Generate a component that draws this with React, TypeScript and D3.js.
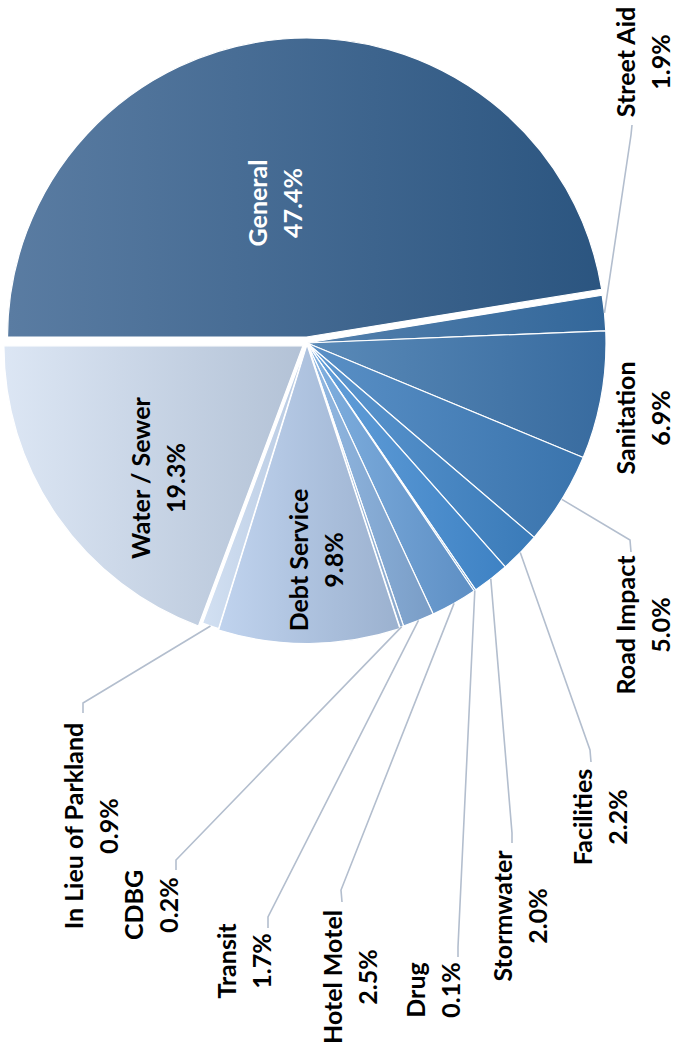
import React from "react";
import * as d3 from "d3";

const categories = [
  "General", "Street Aid", "Sanitation", "Road Impact", "Facilities", "Stormwater",
  "Drug", "Hotel Motel", "Transit", "CDBG", "Debt Service", "In Lieu of Parkland", "Water / Sewer",
];
const values = [47.4, 1.9, 6.9, 5.0, 2.2, 2.0, 0.1, 2.5, 1.7, 0.2, 9.8, 0.9, 19.3];
const percentLabels = values.map((v) => `${v.toFixed(1)}%`);

// styles (left -> right gradient per slice)
const colorStart = [
  "#5a7ca2", "#5380ad", "#5a8ab8", "#5a90c6", "#5f98d0", "#64a0da",
  "#6aa2d8", "#80b0e0", "#92b9e3", "#a2c1e5", "#c0d3ee", "#d2e0f2", "#dce6f4",
];
const colorEnd = [
  "#2b5580", "#33679a", "#386b9f", "#3a74ad", "#3a7bb9", "#3e82c4",
  "#4a88c6", "#5e8fc4", "#7a9dc6", "#8aa8cc", "#9bb1cf", "#b8cae2", "#b3c2d6",
];
const explode = [6, 0, 0, 0, 0, 0, 0, 0, 0, 0, 1.5, 0, 5];

// layout of labels (final page coordinates, text rotated -90deg)
type Lab = { cx: number; cy: number; fill: string; leader?: [number, number, number, number] };
const labelLayout: Lab[] = [
  { cx: 275, cy: 203, fill: "#ffffff" },
  { cx: 643, cy: 62, fill: "#000", leader: [631, 135, 632, 125] },
  { cx: 643, cy: 418, fill: "#000" },
  { cx: 643, cy: 625, fill: "#000", leader: [630, 540, 631, 552] },
  { cx: 600, cy: 817, fill: "#000", leader: [590, 750, 591, 762] },
  { cx: 520, cy: 916, fill: "#000", leader: [512, 833, 512, 843] },
  { cx: 433, cy: 990, fill: "#000", leader: [458, 947, 458, 957] },
  { cx: 350, cy: 977, fill: "#000", leader: [341, 890, 342, 902] },
  { cx: 244, cy: 961, fill: "#000", leader: [268, 917, 268, 928] },
  { cx: 151, cy: 905, fill: "#000", leader: [176, 860, 176, 870] },
  { cx: 316, cy: 560, fill: "#000" },
  { cx: 91, cy: 826, fill: "#000", leader: [83, 703, 83, 713] },
  { cx: 158, cy: 478, fill: "#000" },
];

const W = 674;
const H = 1057;
const CX = 307;
const CY = 343;
const R = 299;
const FS = 25;
const LINE = 35;

export default function App() {
  const pie = d3
    .pie<number>()
    .sort(null)
    .startAngle(-Math.PI / 2)
    .endAngle((3 * Math.PI) / 2);
  const arcs = pie(values);
  const arc = d3.arc<d3.PieArcDatum<number>>().innerRadius(0).outerRadius(R);

  return (
    <svg
      width={W}
      height={H}
      style={{ position: "absolute", left: 0, top: 0, background: "#fff" }}
      fontFamily="Lato, 'Open Sans', sans-serif"
    >
      <defs>
        {categories.map((c, i) => (
          <linearGradient key={c} id={`g${i}`} x1="0" y1="0" x2="1" y2="0">
            <stop offset="0" stopColor={colorStart[i]} />
            <stop offset="1" stopColor={colorEnd[i]} />
          </linearGradient>
        ))}
      </defs>
      <g transform={`translate(${CX},${CY})`}>
        {arcs.map((a, i) => {
          const mid = (a.startAngle + a.endAngle) / 2;
          const dx = Math.sin(mid) * explode[i];
          const dy = -Math.cos(mid) * explode[i];
          return (
            <path
              key={categories[i]}
              d={arc(a) as string}
              transform={`translate(${dx},${dy})`}
              fill={`url(#g${i})`}
              stroke="#fff"
              strokeWidth={1.2}
              strokeLinejoin="round"
            />
          );
        })}
      </g>
      {arcs.map((a, i) => {
        const L = labelLayout[i];
        if (!L.leader) return null;
        const mid = (a.startAngle + a.endAngle) / 2;
        const sx = CX + Math.sin(mid) * (R + explode[i]);
        const sy = CY - Math.cos(mid) * (R + explode[i]);
        const [ex, ey, lx, ly] = L.leader;
        const p = d3.path();
        p.moveTo(sx, sy);
        p.lineTo(ex, ey);
        p.lineTo(lx, ly);
        return (
          <path
            key={"l" + i}
            d={p.toString()}
            fill="none"
            stroke="#b3bece"
            strokeWidth={1.6}
          />
        );
      })}
      {labelLayout.map((L, i) => (
        <text
          key={"t" + i}
          transform={`translate(${L.cx},${L.cy}) rotate(-90)`}
          textAnchor="middle"
          fontWeight={700}
          fontSize={FS}
          fill={L.fill}
        >
          <tspan x={0} y={-LINE / 2 + FS * 0.36}>
            {categories[i]}
          </tspan>
          <tspan x={0} y={LINE / 2 + FS * 0.36}>
            {percentLabels[i]}
          </tspan>
        </text>
      ))}
    </svg>
  );
}
